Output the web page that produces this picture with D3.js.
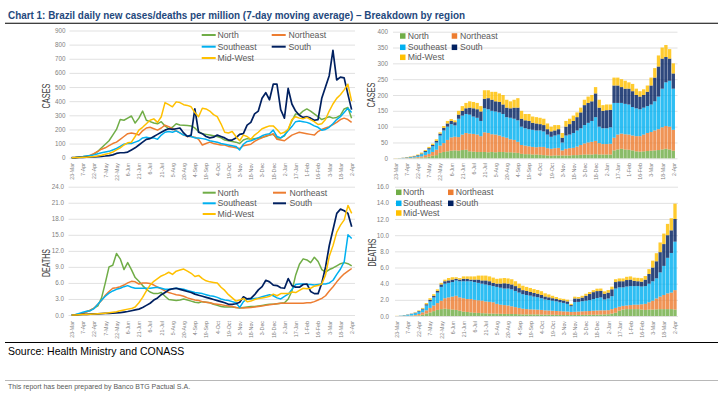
<!DOCTYPE html>
<html><head><meta charset="utf-8">
<script src="https://cdn.jsdelivr.net/npm/d3@7"></script>
<style>
body{margin:0;background:#fff;}
svg{display:block;font-family:"Liberation Sans",Arial,sans-serif;}
</style></head><body>
<svg id="c" width="724" height="395"></svg>
<script>
// ---------- DATA ----------
const regions = ["North","Northeast","Southeast","South","Mid-West"];
const regionColors = ["#70AD47","#ED7D31","#00B0F0","#002060","#FFC000"];
const tickLabels = ["23-Mar","7-Apr","22-Apr","7-May","22-May","6-Jun","21-Jun","6-Jul","21-Jul","5-Aug","20-Aug","4-Sep","19-Sep","4-Oct","19-Oct","3-Nov","18-Nov","3-Dec","18-Dec","2-Jan","17-Jan","1-Feb","16-Feb","3-Mar","18-Mar","2-Apr"];
const firstDay = "2020-03-23";   // series sampled every 5 days from here
const stepDays = 5;

// Cases per million (7-day MA), by region
const casesNorth = [0,1,3,6,10,15,25,45,70,95,120,160,200,270,265,280,295,245,280,330,265,255,245,240,255,225,205,215,240,232,230,228,225,210,185,170,165,160,155,150,140,125,120,115,110,100,125,135,130,135,140,145,150,160,165,140,140,155,200,260,310,305,330,345,330,310,290,270,280,290,280,285,300,345,355,280];
const casesNortheast = [0,1,3,5,10,18,30,45,60,70,85,100,110,130,150,170,175,170,160,190,210,215,205,195,210,230,220,205,190,175,160,150,150,145,130,90,100,110,100,95,90,90,80,75,70,65,85,90,95,115,130,140,155,160,170,130,125,120,140,160,170,180,175,170,165,160,185,200,210,220,235,250,270,280,270,250];
const casesSoutheast = [0,2,5,8,12,15,20,28,35,40,45,55,65,80,95,100,100,110,120,140,145,140,140,130,160,180,185,180,190,175,160,155,150,140,140,135,130,120,115,110,100,95,90,85,80,55,95,115,120,130,140,155,165,170,195,150,140,160,190,220,255,260,255,250,240,225,215,195,200,215,240,270,290,320,350,320];
const casesSouth = [0,1,2,3,4,5,6,8,10,12,15,20,30,35,35,40,55,70,90,110,130,135,150,165,180,195,205,200,205,210,175,150,160,345,180,170,150,140,145,160,150,140,125,125,140,165,170,230,250,310,330,420,460,410,520,520,340,280,490,380,330,300,285,290,280,265,270,420,500,580,760,550,570,565,450,340];
const casesMidWest = [0,1,2,3,4,6,8,12,18,25,30,40,55,70,90,105,110,150,195,215,240,265,275,250,290,390,375,360,395,390,375,370,360,320,290,350,345,330,305,290,240,180,175,185,150,120,160,150,130,160,180,205,215,225,225,200,170,180,200,270,290,280,275,285,270,255,235,240,270,330,380,420,445,480,520,400];

// Deaths per million (7-day MA), by region
const deathsNorth = [0,0,0.1,0.3,0.6,0.9,1.3,1.7,3.2,6,9,9.3,11.5,10.5,8.5,9.8,8.5,7,6.3,5.5,4.8,4.3,4,4,4.2,3.5,2.9,2.8,2.7,2.8,3,2.8,2.6,2.4,2.3,2.5,2.4,2.3,2,1.8,1.6,1.5,1.5,1.5,1.4,1.3,1.4,1.5,1.6,1.6,1.7,1.8,1.9,2,2,2.1,2.2,2.3,3,4.5,7.5,9.5,10.5,10.3,9.8,10.8,10,8.5,8,8.5,8.8,9.2,9.6,9.8,9.6,9.2];
const deathsNortheast = [0,0.05,0.15,0.3,0.6,0.9,1.3,2,2.7,3.7,4.4,5,5.1,5.3,5.6,6,6.3,6.2,5.8,6,6,5.9,5.6,5.2,4.9,4.5,4.2,4,3.8,3.7,3.5,3.2,3,2.8,2.7,2.5,2.4,2.3,2.1,2,1.9,1.8,1.7,1.6,1.4,1.35,1.3,1.35,1.4,1.5,1.6,1.7,1.8,1.9,2,2.1,2.2,2.2,2.2,2.2,2.2,2.2,2.2,2.3,2.3,2.5,2.8,3.1,3.6,4.5,5.3,6.2,7,7.7,8.2,8.7];
const deathsSoutheast = [0,0.1,0.3,0.5,0.7,0.8,1.2,2,2.8,3.5,4.1,4.5,4.8,5,5.3,5.5,5.2,5,5,5,5,5,5.1,5.2,5,4.8,4.8,4.9,5,4.9,4.8,4.6,4.4,4.2,4.1,4,3.8,3.6,3.5,3.3,3,2.8,2.7,2.5,2.3,1.4,2.5,3,3,3.1,3.2,3.4,3.6,3.8,3.6,3.2,3,3.5,3.9,4.8,5.7,5.8,5.8,5.7,5.7,5.6,5.7,5.8,5.8,6,6.5,7.6,8.6,10,15,14.3];
const deathsSouth = [0,0,0.05,0.1,0.1,0.15,0.2,0.2,0.25,0.3,0.3,0.35,0.4,0.45,0.55,0.65,0.8,0.95,1.1,1.4,1.8,2.2,2.8,3.2,3.8,4.2,4.7,4.9,5,4.8,4.6,4.4,4.2,3.9,3.7,3.5,3.3,3.1,2.9,2.7,2.5,2.3,2,2,2.1,2.4,3.4,3,3.1,3.8,4.7,5.3,6.5,6.2,5.6,5.5,5.1,5,6.8,5.5,5.2,5.2,5.7,5.8,4.4,4,4,6,9,13,16,19,19.8,19.5,19,16.5];
const deathsMidWest = [0,0,0.05,0.1,0.1,0.15,0.2,0.25,0.3,0.35,0.4,0.5,0.6,0.8,0.95,1.1,1.2,1.5,2.3,3.3,4.5,5.6,6.3,6.8,7.3,7.6,8,7.6,8.2,8.4,8.6,8.2,7.8,7.2,7.4,6.8,6.4,6.2,6.1,6,5.2,4.6,3.8,3.2,2.6,2.8,3.1,2.5,2.6,2.9,3.1,3.2,3.3,3.5,3.9,3.6,4,4,4,4.3,4.2,4.6,5,4.9,5,5.4,5.5,5.8,7.5,11,13,15.5,16.8,17.8,20.5,19];

// Contribution of each region to Brazil's cases per million (stacked)
const stackCasesNorth = [0,0,0,0.3,0.5,1,1.5,2,3,5,8,10,17,20,22,24,25,24,26,27,22,21,20,20,20,19,20,19,20,20,19,19,18,17,14,13,13,12,12,11,10,9,8,9,9,9,9,9,10,10,11,12,12,12,13,12,12,12,12,25,28,30,28,27,25,22,21,22,23,24,25,26,28,30,28,24];
const stackCasesNortheast = [0,0,0.3,0.5,0.8,1.5,2.5,4,7,9,12,17,23,28,36,42,43,43,49,53,56,56,55,50,62,61,56,56,52,48,46,41,40,35,28,27,25,24,23,25,26,23,22,23,24,16,21,23,23,27,31,35,38,40,42,36,33,33,34,40,47,48,48,48,47,48,49,53,57,59,63,66,70,72,72,66];
const stackCasesSoutheast = [0,0.5,0.7,1.2,2.2,2.5,4,7,10,14,18,23,32,40,42,42,36,58,60,60,60,55,53,48,76,75,74,73,73,72,65,68,67,68,58,55,54,54,53,52,49,43,38,40,42,25,42,43,47,51,53,58,62,66,75,52,50,50,52,110,100,97,96,95,90,88,85,85,85,87,92,103,122,138,145,130];
const stackCasesSouth = [0,0,0.5,1,1,1.5,2,2,3,4,4,5,6,8,10,10,10,13,15,18,22,26,27,30,30,35,35,32,33,30,30,30,35,40,25,25,26,22,22,20,20,17,17,16,17,15,28,33,38,42,50,63,63,62,75,60,55,57,55,55,55,50,48,50,50,42,40,40,45,60,75,95,95,80,70,48];
const stackCasesMidWest = [0.5,0.5,0.5,1,1.5,1.5,2,3,3,4,4,5,4,6,8,6,6,12,15,17,20,20,20,17,27,25,25,30,27,30,25,22,25,30,25,20,22,20,20,20,20,18,15,17,13,15,18,17,17,15,15,17,20,20,20,25,18,18,17,25,25,25,25,20,23,20,17,18,20,25,30,35,35,38,30,32];

// Contribution of each region to Brazil's deaths per million (stacked)
const stackDeathsNorth = [0,0,0,0.01,0.02,0.04,0.08,0.15,0.3,0.45,0.6,0.75,0.85,0.9,0.85,0.8,0.75,0.65,0.55,0.5,0.45,0.4,0.38,0.35,0.33,0.3,0.3,0.28,0.27,0.26,0.25,0.25,0.24,0.22,0.2,0.2,0.2,0.2,0.2,0.18,0.17,0.16,0.15,0.14,0.13,0.12,0.12,0.12,0.13,0.13,0.14,0.14,0.15,0.15,0.16,0.18,0.2,0.22,0.3,0.4,0.65,0.8,0.85,0.85,0.85,0.85,0.8,0.75,0.8,0.8,0.82,0.85,0.85,0.85,0.85,0.8];
const stackDeathsNortheast = [0,0,0.01,0.02,0.04,0.08,0.17,0.3,0.4,0.55,0.7,0.85,1.05,1.3,1.45,1.6,1.75,1.65,1.65,1.6,1.65,1.6,1.57,1.55,1.47,1.45,1.4,1.22,1.13,1.09,1.05,0.95,0.86,0.78,0.7,0.65,0.62,0.6,0.58,0.57,0.53,0.52,0.5,0.48,0.47,0.45,0.43,0.38,0.39,0.42,0.44,0.46,0.47,0.5,0.52,0.52,0.5,0.5,0.55,0.6,0.5,0.45,0.45,0.5,0.55,0.55,0.65,0.75,0.9,1.1,1.35,1.55,1.75,1.95,2.05,2.4];
const stackDeathsSoutheast = [0,0.03,0.07,0.12,0.19,0.23,0.3,0.35,0.6,0.8,1,1.3,1.7,1.8,1.8,1.8,1.9,2,2.1,2.2,2.2,2.2,2.15,2.1,2.1,2.05,2,2.1,2.1,2.05,2.1,2.1,2,1.9,1.8,1.75,1.7,1.6,1.55,1.45,1.35,1.3,1.25,1.2,1.1,1.05,0.95,0.7,1.2,1.2,1.25,1.3,1.35,1.45,1.55,1.6,1.35,1.45,1.6,2.4,2.4,2.3,2.35,2.35,2.3,2.3,2.2,2.2,2.3,2.4,2.5,3,3.6,4.4,4.9,6];
const stackDeathsSouth = [0,0.01,0.02,0.03,0.03,0.05,0.07,0.1,0.15,0.2,0.2,0.2,0.3,0.3,0.3,0.3,0.2,0.2,0.3,0.3,0.2,0.3,0.4,0.4,0.5,0.5,0.4,0.4,0.5,0.65,0.6,0.6,0.6,0.55,0.5,0.5,0.45,0.45,0.42,0.4,0.36,0.33,0.3,0.28,0.28,0.3,0.3,0.15,0.45,0.4,0.45,0.6,0.75,0.85,0.85,0.8,0.7,0.72,0.85,0.8,0.75,0.75,0.8,0.8,0.65,0.6,0.6,0.8,1.2,1.7,2.1,2.5,2.7,2.8,2.8,2.8];
const stackDeathsMidWest = [0.02,0.01,0.02,0.02,0.02,0.05,0.08,0.1,0.15,0.2,0.2,0.2,0.2,0.2,0.3,0.3,0.2,0.2,0.3,0.3,0.4,0.4,0.5,0.6,0.6,0.6,0.65,0.6,0.65,0.65,0.65,0.65,0.6,0.55,0.55,0.5,0.5,0.48,0.47,0.47,0.4,0.36,0.3,0.25,0.2,0.2,0.22,0.15,0.22,0.2,0.22,0.25,0.25,0.25,0.3,0.3,0.3,0.32,0.33,0.35,0.35,0.35,0.4,0.4,0.4,0.42,0.43,0.45,0.6,0.85,1,1.2,1.3,1.4,1.5,1.9];

const casesTicks = [0,100,200,300,400,500,600,700,800,900];
const stackCasesTicks = [0,50,100,150,200,250,300,350,400];
const deathsTicks = [0,3,6,9,12,15,18,21,24];
const stackDeathsTicks = [0,2,4,6,8,10,12,14,16];

// ---------- BUILD ----------
const parse = d3.timeParse("%Y-%m-%d");
const start = parse(firstDay);
const dates = casesNorth.map((_, i) => d3.timeDay.offset(start, i * stepDays));
const tickDates = tickLabels.map((_, i) => d3.timeDay.offset(start, i * 15));
const lastTick = tickDates[tickDates.length - 1];

const svg = d3.select("#c");
const GRID = "#d9d9d9", TICK = "#7f7f7f", LEG = "#595959";

function panel(cfg) {
  const g = svg.append("g");
  const x = d3.scaleTime().domain([start, lastTick]).range([cfg.x0, cfg.x1]);
  const y = d3.scaleLinear().domain([0, cfg.ticks[cfg.ticks.length - 1]]).range([cfg.yb, cfg.yt]);

  const grid = g.append("g").attr("transform", `translate(${cfg.gx0},0)`)
    .call(d3.axisRight(y).tickValues(cfg.ticks).tickSize(cfg.gx1 - cfg.gx0).tickFormat(""));
  grid.select(".domain").remove();
  grid.selectAll("line").attr("stroke", GRID).attr("stroke-width", 0.8);

  const ya = g.append("g").attr("transform", `translate(${cfg.ylx},0)`)
    .call(d3.axisLeft(y).tickValues(cfg.ticks).tickSize(0).tickPadding(0).tickFormat(cfg.fmt));
  ya.select(".domain").remove();
  ya.selectAll("text").attr("fill", TICK).style("font-size", "6.3px");

  const xa = g.append("g").attr("transform", `translate(0,${cfg.xly})`)
    .call(d3.axisBottom(x).tickValues(tickDates).tickSize(0).tickFormat((d, i) => tickLabels[i]));
  xa.select(".domain").remove();
  xa.selectAll("text").attr("fill", TICK).style("font-size", "5.3px")
    .attr("transform", "rotate(-90)").attr("text-anchor", "end")
    .attr("x", 0).attr("y", 0).attr("dy", "0.35em");

  g.append("text").attr("transform", `translate(${cfg.tx},${cfg.ty}) rotate(-90)`)
    .attr("text-anchor", "middle").attr("dy", "0.35em")
    .attr("fill", "#404040").style("font-size", "10px")
    .attr("textLength", cfg.tlen).attr("lengthAdjust", "spacingAndGlyphs")
    .text(cfg.title);

  if (cfg.type === "line") {
    const line = d3.line().x((d, i) => x(dates[i])).y(d => y(d));
    cfg.series.forEach((s, j) => {
      g.append("path").datum(s).attr("fill", "none")
        .attr("stroke", regionColors[j]).attr("stroke-width", j === 3 ? 1.7 : 1.5)
        .attr("stroke-linejoin", "round").attr("d", line);
    });
  } else {
    const rows = dates.map((d, i) => {
      const r = { date: d };
      regions.forEach((k, j) => r[k] = cfg.series[j][i]);
      return r;
    });
    const stacked = d3.stack().keys(regions)(rows);
    const slot = x(d3.timeDay.offset(start, stepDays)) - x(start);
    const bw = slot * 0.9;
    stacked.forEach((layer, j) => {
      g.append("g").attr("fill", regionColors[j]).attr("fill-opacity", 0.82)
        .selectAll("rect").data(layer).join("rect")
        .attr("x", d => x(d.data.date) - bw / 2)
        .attr("width", bw)
        .attr("y", d => y(d[1]))
        .attr("height", d => Math.max(0, y(d[0]) - y(d[1])));
    });
  }

  const L = cfg.leg;
  regions.forEach((name, j) => {
    const col = j === 4 ? 0 : j % 2, row = Math.floor(j / 2);
    const ly = L.rows[row];
    if (cfg.type === "line") {
      g.append("line").attr("x1", L.sx[col]).attr("x2", L.sx[col] + L.sw)
        .attr("y1", ly).attr("y2", ly).attr("stroke", regionColors[j]).attr("stroke-width", 2);
    } else {
      g.append("rect").attr("x", L.sx[col]).attr("y", ly - 2.75).attr("width", 5.5).attr("height", 5.5)
        .attr("fill", regionColors[j]);
    }
    g.append("text").attr("x", L.tx[col]).attr("y", ly).attr("dy", "0.35em")
      .attr("fill", LEG).style("font-size", "8.7px").text(name);
  });
}

panel({ type: "line", series: [casesNorth, casesNortheast, casesSoutheast, casesSouth, casesMidWest],
  x0: 71.7, x1: 351.6, gx0: 69.5, gx1: 355, yb: 157.7, yt: 30.5, ticks: casesTicks, fmt: d3.format("d"),
  ylx: 65.5, xly: 163, title: "CASES", tx: 46, ty: 96, tlen: 25,
  leg: { sx: [201.7, 271.7], sw: 14, tx: [217.5, 288.5], rows: [35, 46.7, 58] } });

panel({ type: "bar", series: [stackCasesNorth, stackCasesNortheast, stackCasesSoutheast, stackCasesSouth, stackCasesMidWest],
  x0: 395.7, x1: 673.3, gx0: 393, gx1: 677.5, yb: 158.3, yt: 31.7, ticks: stackCasesTicks, fmt: d3.format("d"),
  ylx: 388, xly: 163, title: "CASES", tx: 371, ty: 95, tlen: 25,
  leg: { sx: [400, 451.7], tx: [407.7, 460], rows: [36, 47.3, 57.3] } });

panel({ type: "line", series: [deathsNorth, deathsNortheast, deathsSoutheast, deathsSouth, deathsMidWest],
  x0: 71.7, x1: 351.7, gx0: 68.5, gx1: 355, yb: 315, yt: 186.7, ticks: deathsTicks, fmt: d3.format(".1f"),
  ylx: 64, xly: 321, title: "DEATHS", tx: 46, ty: 263, tlen: 28,
  leg: { sx: [202.7, 273], sw: 13, tx: [217.5, 289.5], rows: [192.7, 203.3, 214] } });

panel({ type: "bar", series: [stackDeathsNorth, stackDeathsNortheast, stackDeathsSoutheast, stackDeathsSouth, stackDeathsMidWest],
  x0: 396.7, x1: 675, gx0: 395, gx1: 678, yb: 316, yt: 186.7, ticks: stackDeathsTicks, fmt: d3.format(".1f"),
  ylx: 389, xly: 321, title: "DEATHS", tx: 372.5, ty: 252.5, tlen: 28,
  leg: { sx: [396, 448], tx: [403, 455.7], rows: [192.3, 203.3, 213] } });

// ---------- TITLE & FOOTER ----------
svg.append("text").attr("x", 8).attr("y", 19.3)
  .attr("fill", "#1F497D").style("font-size", "11.5px").style("font-weight", "bold")
  .attr("textLength", 457).attr("lengthAdjust", "spacingAndGlyphs")
  .text("Chart 1: Brazil daily new cases/deaths per million (7-day moving average) – Breakdown by region");
svg.append("line").attr("x1", 5).attr("x2", 718).attr("y1", 23.2).attr("y2", 23.2)
  .attr("stroke", "#000").attr("stroke-width", 1.1);

svg.append("line").attr("x1", 5).attr("x2", 718).attr("y1", 342.5).attr("y2", 342.5)
  .attr("stroke", "#000").attr("stroke-width", 1.1);
svg.append("text").attr("x", 8).attr("y", 355).attr("fill", "#000")
  .style("font-size", "10.5px").text("Source: Health Ministry and CONASS");

svg.append("line").attr("x1", 5).attr("x2", 718).attr("y1", 380.5).attr("y2", 380.5)
  .attr("stroke", "#a6a6a6").attr("stroke-width", 0.8);
svg.append("text").attr("x", 8).attr("y", 389).attr("fill", "#595959")
  .style("font-size", "7px").text("This report has been prepared by Banco BTG Pactual S.A.");
</script>
</body></html>
